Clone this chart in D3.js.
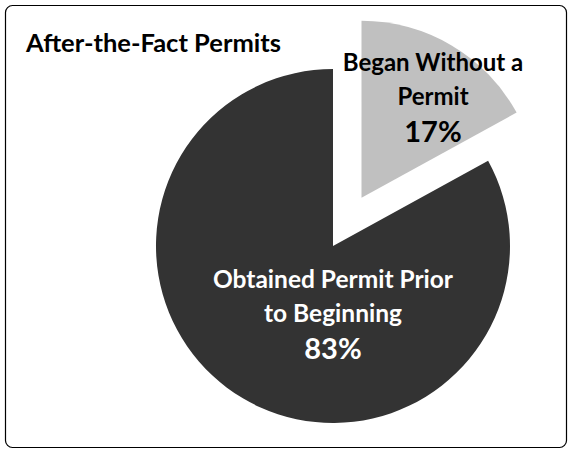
<!DOCTYPE html>
<html>
<head>
<meta charset="utf-8">
<script src="https://cdn.jsdelivr.net/npm/d3@7"></script>
<style>
  html, body { margin: 0; padding: 0; background: #fff; }
  svg { display: block; font-family: Lato, "Open Sans", sans-serif; }
</style>
</head>
<body>
<div id="chart"></div>
<script>
// chart data
const title = 'After-the-Fact Permits';
const categories = ['Began Without a Permit', 'Obtained Permit Prior to Beginning'];
const labelLines = [['Began Without a', 'Permit'], ['Obtained Permit Prior', 'to Beginning']];
const values = [17, 83];
const colors = ['#c0c0c0', '#333333'];
const textColors = ['#000000', '#ffffff'];

const W = 572, H = 451;
const cx = 333, cy = 246, r = 177;
const explode = 56;

const svg = d3.select('#chart').append('svg')
  .attr('width', W).attr('height', H);

// chart border
svg.append('rect')
  .attr('x', 5.5).attr('y', 5.5)
  .attr('width', W - 11).attr('height', H - 9)
  .attr('rx', 7)
  .attr('fill', '#fff').attr('stroke', '#000').attr('stroke-width', 1.2);

svg.append('text')
  .attr('x', 26).attr('y', 52)
  .attr('font-size', 25.5).attr('font-weight', 700)
  .attr('fill', '#000')
  .text(title);

const pie = d3.pie().sort(null).value(d => d)(values);
const arc = d3.arc().innerRadius(0).outerRadius(r);

// label placement: anchor = baseline of 2nd line (angle from 12 o'clock, radius fraction)
const labelPlace = [
  { angle: 0.655, rad: 0.663, size: 24 },
  { angle: Math.PI, rad: 0.43, size: 24.5 }
];

const g = svg.append('g').attr('transform', `translate(${cx},${cy})`);

pie.forEach((d, i) => {
  const mid = (d.startAngle + d.endAngle) / 2;
  const off = i === 0 ? explode : 0;
  const ox = Math.sin(mid) * off, oy = -Math.cos(mid) * off;
  const sg = g.append('g').attr('transform', `translate(${ox},${oy})`);
  sg.append('path')
    .attr('d', arc(d))
    .attr('fill', colors[i]);

  const lp = labelPlace[i];
  const lx = Math.sin(lp.angle) * r * lp.rad;
  const ly = -Math.cos(lp.angle) * r * lp.rad;
  const t = sg.append('text')
    .attr('text-anchor', 'middle')
    .attr('font-size', lp.size).attr('font-weight', 700)
    .attr('fill', textColors[i])
    .attr('transform', `translate(${lx},${ly})`);
  const lines = labelLines[i];
  t.append('tspan').attr('x', 0).attr('y', -34).text(lines[0]);
  t.append('tspan').attr('x', 0).attr('y', 0).text(lines[1]);
  t.append('tspan').attr('x', 0).attr('y', 37)
    .attr('font-size', 29)
    .text(d3.format('.0%')(d.data / d3.sum(values)));
});
</script>
</body>
</html>
